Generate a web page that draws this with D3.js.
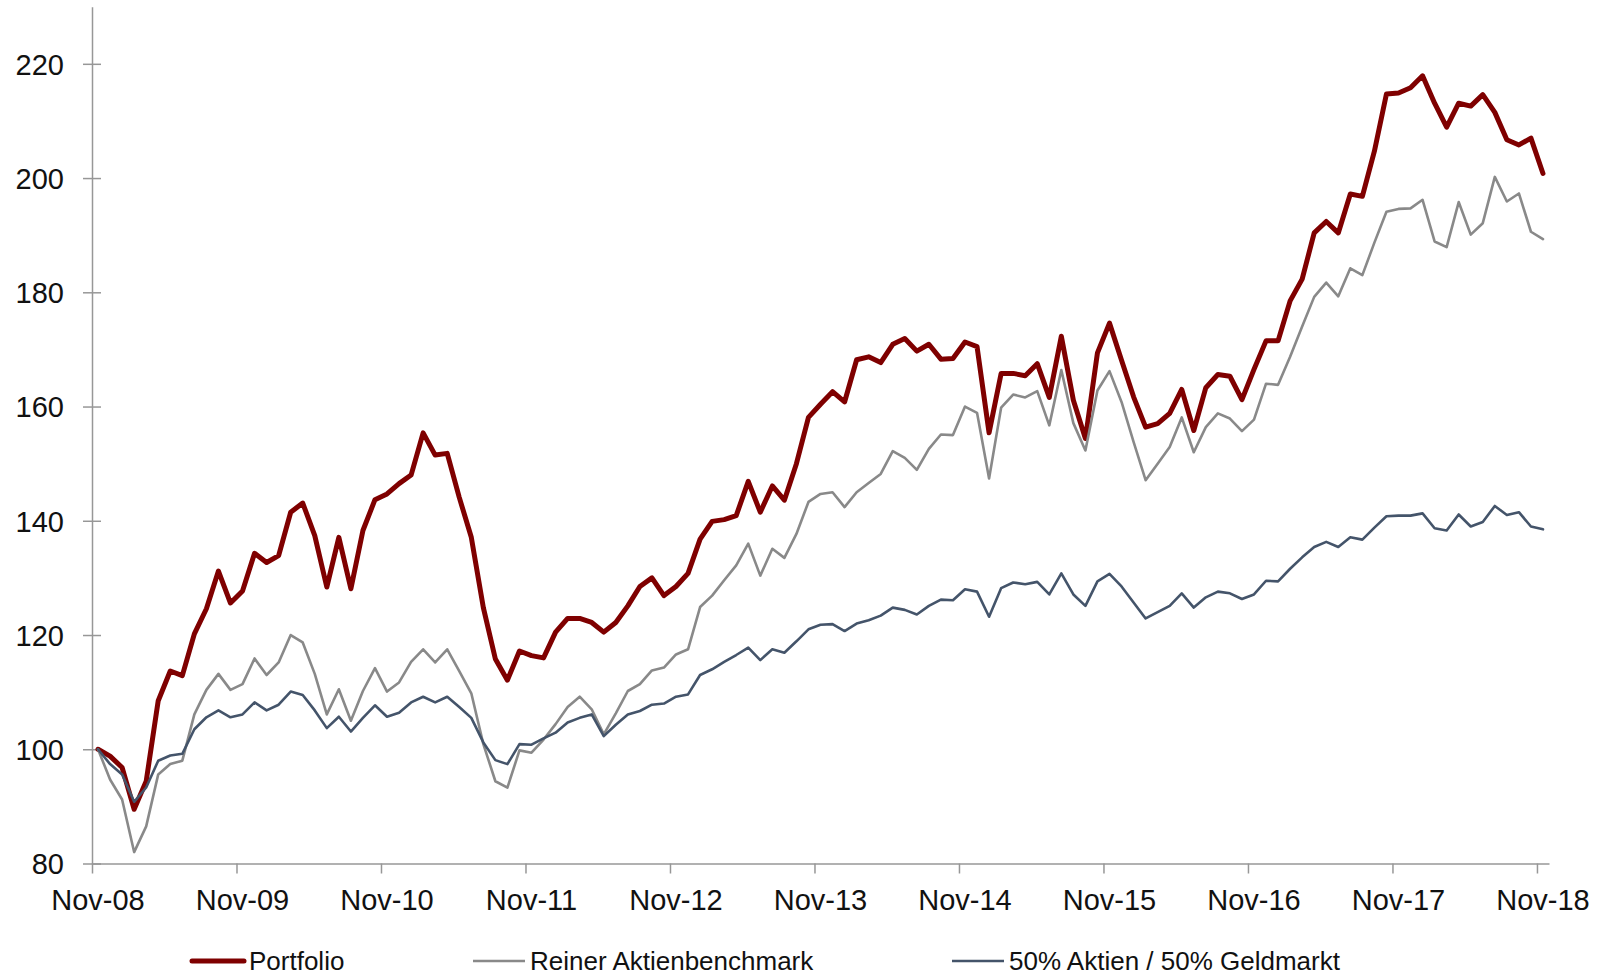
<!DOCTYPE html>
<html>
<head>
<meta charset="utf-8">
<script src="https://cdn.jsdelivr.net/npm/d3@7"></script>
<style>
  html, body { margin: 0; padding: 0; background: #ffffff; }
  svg { display: block; }
  text { font-family: "Liberation Sans", Arial, sans-serif; fill: #111; }
</style>
</head>
<body>
<svg id="chart" width="1618" height="976"></svg>
<script>
// Monthly index values, Nov 2008 = 100, through Nov 2018 (121 months)
const portfolio = [
  100.0, 98.8, 96.8, 89.5, 94.4, 108.5, 113.7, 112.9, 120.2, 124.6, 131.2, 125.6,
  127.7, 134.3, 132.7, 133.9, 141.5, 143.1, 137.4, 128.4, 137.1, 128.1, 138.3, 143.7,
  144.7, 146.5, 148.0, 155.4, 151.5, 151.8, 144.1, 137.1, 124.8, 115.8, 112.1, 117.2,
  116.4, 116.0, 120.5, 122.9, 122.9, 122.2, 120.5, 122.2, 125.1, 128.5, 130.0, 126.9,
  128.5, 130.8, 136.8, 139.9, 140.2, 140.9, 146.9, 141.5, 146.1, 143.6, 150.0, 158.1,
  160.4, 162.6, 160.8, 168.2, 168.7, 167.7, 170.9, 171.9, 169.7, 170.9, 168.3, 168.4,
  171.3, 170.5, 155.4, 165.8, 165.8, 165.4, 167.5, 161.6, 172.3, 161.1, 154.4, 169.4,
  174.6, 168.1, 161.7, 156.4, 157.0, 158.8, 163.0, 155.8, 163.3, 165.6, 165.3, 161.2,
  166.5, 171.5, 171.5, 178.5, 182.3, 190.4, 192.4, 190.4, 197.2, 196.8, 204.7, 214.7,
  214.9, 215.8, 217.9, 213.1, 208.9, 213.1, 212.6, 214.6, 211.5, 206.7, 205.8, 207.0,
  200.8
];
const aktienBenchmark = [
  100.0, 94.7, 91.2, 82.0, 86.5, 95.6, 97.4, 98.0, 106.1, 110.4, 113.2, 110.4,
  111.4, 115.9, 113.0, 115.2, 120.0, 118.7, 113.2, 106.1, 110.5, 105.0, 110.2, 114.2,
  110.1, 111.7, 115.3, 117.5, 115.2, 117.5, 113.7, 109.8, 100.9, 94.4, 93.3, 99.8,
  99.4, 101.7, 104.4, 107.4, 109.2, 107.0, 102.6, 106.3, 110.2, 111.4, 113.8, 114.3,
  116.6, 117.5, 124.9, 126.9, 129.6, 132.2, 136.0, 130.4, 135.1, 133.5, 137.7, 143.3,
  144.7, 145.0, 142.4, 145.0, 146.6, 148.2, 152.2, 151.0, 148.9, 152.6, 155.1, 155.0,
  160.0, 158.9, 147.4, 159.8, 162.1, 161.6, 162.7, 156.7, 166.4, 157.1, 152.3, 162.8,
  166.2, 160.8, 153.8, 147.1, 150.0, 152.9, 158.1, 152.0, 156.4, 158.8, 157.9, 155.7,
  157.7, 164.0, 163.8, 168.7, 174.0, 179.2, 181.7, 179.3, 184.2, 183.0, 188.7, 194.1,
  194.6, 194.7, 196.2, 188.9, 187.9, 195.8, 190.1, 192.1, 200.2, 195.9, 197.3, 190.6,
  189.3
];
const halbHalb = [
  100.0, 97.4, 95.6, 90.8, 93.3, 98.0, 98.9, 99.2, 103.5, 105.6, 106.8, 105.6,
  106.1, 108.2, 106.8, 107.8, 110.1, 109.5, 106.8, 103.7, 105.7, 103.1, 105.5, 107.7,
  105.7, 106.4, 108.2, 109.2, 108.2, 109.2, 107.4, 105.5, 101.2, 98.1, 97.4, 100.9,
  100.8, 101.9, 102.9, 104.7, 105.5, 106.1, 102.3, 104.3, 106.1, 106.7, 107.8, 108.0,
  109.2, 109.6, 113.0, 114.0, 115.3, 116.5, 117.8, 115.6, 117.5, 116.9, 118.9, 121.0,
  121.8, 121.9, 120.7, 122.0, 122.6, 123.4, 124.8, 124.4, 123.6, 125.1, 126.2, 126.1,
  128.0, 127.6, 123.2, 128.2, 129.2, 128.9, 129.3, 127.1, 130.8, 127.1, 125.1, 129.4,
  130.7, 128.5, 125.7, 122.9, 124.0, 125.1, 127.3, 124.8, 126.6, 127.6, 127.3, 126.3,
  127.1, 129.5, 129.4, 131.6, 133.6, 135.4, 136.3, 135.4, 137.1, 136.7, 138.8, 140.8,
  140.9, 140.9, 141.3, 138.7, 138.3, 141.1, 139.0, 139.8, 142.6, 141.0, 141.5, 139.0,
  138.5
];

const seriesNames = ["Portfolio", "Reiner Aktienbenchmark", "50% Aktien / 50% Geldmarkt"];
const seriesColors = ["#7f0000", "#898989", "#44546a"];
const seriesWidths = [5, 2.6, 2.6];

const yTicks = [80, 100, 120, 140, 160, 180, 200, 220];
const xTickLabels = ["Nov-08", "Nov-09", "Nov-10", "Nov-11", "Nov-12", "Nov-13",
                     "Nov-14", "Nov-15", "Nov-16", "Nov-17", "Nov-18"];

// Month categories Nov 2008 .. Nov 2018
const months = d3.timeMonth.range(new Date(2008, 10, 1), new Date(2018, 11, 1));

const svg = d3.select("#chart");
const plotLeft = 92, plotRight = 1549, plotTop = 6.7, plotBottom = 863.5;

// Category (band) scale: each month is one band, points sit at band centres
const x = d3.scaleBand().domain(d3.range(months.length)).range([plotLeft, plotRight]).paddingInner(0).paddingOuter(0);
const bw = x.bandwidth();
const xc = i => x(i) + bw / 2;
// Edge scale in month units for tick marks between categories
const xEdge = d3.scaleLinear().domain([0, months.length]).range([plotLeft, plotRight]);

const y = d3.scaleLinear().domain([80, 230]).range([plotBottom, plotTop]);

const axisColor = "#979797";

// Y axis with ticks crossing the axis line
const yAxis = svg.append("g")
  .attr("transform", `translate(${plotLeft},0)`)
  .call(d3.axisLeft(y).tickValues(yTicks).tickSize(9).tickSizeOuter(0).tickPadding(19));
yAxis.select(".domain").attr("stroke", axisColor).attr("stroke-width", 1.5);
yAxis.selectAll(".tick line").attr("x1", 9).attr("stroke", axisColor).attr("stroke-width", 1.5);
yAxis.selectAll(".tick text")
  .attr("font-family", '"Liberation Sans", Arial, sans-serif')
  .attr("font-size", 29).attr("fill", "#111").attr("dy", "0.36em");

// X axis: tick marks on yearly category boundaries
const xTickIdx = d3.range(0, months.length, 12);
const xAxis = svg.append("g")
  .attr("transform", `translate(0,${plotBottom})`)
  .call(d3.axisBottom(xEdge).tickValues(xTickIdx).tickFormat("").tickSize(10).tickSizeOuter(0));
xAxis.select(".domain").attr("stroke", axisColor).attr("stroke-width", 1.5);
xAxis.selectAll(".tick line").attr("stroke", axisColor).attr("stroke-width", 1.5);

// Year labels centred on their month's data point
svg.append("g").selectAll("text")
  .data(xTickIdx)
  .join("text")
  .attr("x", i => xc(i))
  .attr("y", 910)
  .attr("text-anchor", "middle")
  .attr("font-size", 29)
  .text((d, k) => xTickLabels[k]);

// Lines
const allSeries = [portfolio, aktienBenchmark, halbHalb];
const line = d3.line().x((d, i) => xc(i)).y(d => y(d));
svg.append("g").selectAll("path")
  .data(allSeries)
  .join("path")
  .attr("d", d => line(d))
  .attr("fill", "none")
  .attr("stroke", (d, k) => seriesColors[k])
  .attr("stroke-width", (d, k) => seriesWidths[k])
  .attr("stroke-linejoin", "round")
  .attr("stroke-linecap", "round");

// Legend
const legendX = [192, 473, 952];
const legendY = 961;
const lg = svg.append("g").selectAll("g")
  .data(seriesNames)
  .join("g")
  .attr("transform", (d, k) => `translate(${legendX[k]},${legendY})`);
lg.append("line")
  .attr("x1", 0).attr("x2", 52).attr("y1", 0).attr("y2", 0)
  .attr("stroke", (d, k) => seriesColors[k])
  .attr("stroke-width", (d, k) => seriesWidths[k])
  .attr("stroke-linecap", (d, k) => k === 0 ? "round" : "butt");
lg.append("text")
  .attr("x", 57).attr("y", 9)
  .attr("font-size", 26)
  .text(d => d);
</script>
</body>
</html>
